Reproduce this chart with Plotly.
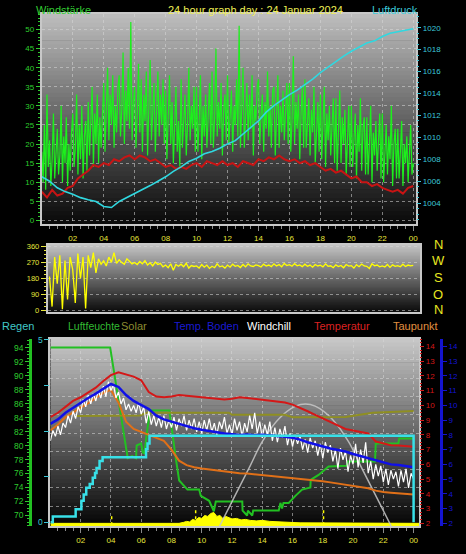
import plotly.graph_objects as go

# ============================ DATA ============================
# --- top panel: Windstärke (gusts, 5-min samples from 00:00) ---
wind_gust = [
    18, 10, 25, 8, 33, 14, 21, 9, 16, 28, 11, 19,
    24, 12, 17, 30, 10, 22, 15, 27, 9, 20, 13, 23,
    28, 14, 19, 33, 12, 25, 16, 30, 11, 22, 26, 13,
    31, 17, 24, 35, 14, 28, 20, 33, 15, 27, 19, 30,
    36, 18, 27, 40, 21, 33, 25, 38, 19, 30, 23, 35,
    38, 22, 29, 44, 20, 34, 26, 40, 24, 52, 21, 31,
    35, 19, 28, 41, 23, 37, 18, 33, 26, 39, 17, 30,
    42, 21, 30, 36, 18, 28, 39, 22, 33, 25, 37, 20,
    34, 16, 27, 38, 20, 31, 15, 29, 35, 18, 26, 14,
    37, 19, 28, 33, 17, 25, 40, 21, 30, 24, 35, 18,
    35, 18, 26, 38, 16, 30, 22, 33, 19, 28, 36, 20,
    39, 19, 27, 45, 22, 31, 24, 36, 17, 29, 33, 21,
    38, 20, 28, 34, 18, 30, 25, 37, 22, 51, 19, 31,
    40, 19, 29, 36, 21, 33, 24, 38, 17, 30, 26, 35,
    37, 20, 28, 33, 18, 31, 24, 39, 22, 30, 19, 34,
    35, 17, 27, 38, 19, 30, 23, 34, 21, 29, 36, 20,
    36, 18, 26, 43, 20, 31, 24, 33, 16, 28, 35, 19,
    37, 19, 27, 32, 17, 29, 23, 35, 15, 26, 31, 18,
    33, 16, 25, 35, 14, 28, 21, 30, 17, 26, 32, 15,
    32, 13, 24, 34, 15, 27, 20, 29, 12, 23, 30, 14,
    30, 14, 22, 28, 11, 25, 18, 32, 13, 24, 27, 12,
    27, 12, 20, 30, 10, 23, 17, 26, 13, 21, 28, 11,
    28, 10, 19, 25, 12, 22, 16, 30, 9, 20, 24, 11,
    24, 11, 18, 26, 9, 20, 15, 22, 10, 19, 25, 12,
    15]

# --- top panel: mean wind (20-min samples) ---
wind_avg = [
    7.5, 6.0, 8.0, 6.5, 7.0, 8.5,
    9, 11, 12, 13, 14.5, 14, 15, 14.5, 16, 15.5, 16.5, 17, 16, 17, 16.5, 15.5, 16, 15,
    14, 14.5, 13.5, 14, 13.5, 14.5, 15, 14, 15.5, 15, 14.5, 15.5, 14.5, 15, 14, 15.5, 15, 14.5,
    16, 15.5, 16.5, 16, 17, 16, 15.5, 16, 15, 15.5, 14.5, 15, 14, 13, 13.5, 12.5, 13, 12,
    11, 11.5, 10, 10, 9, 9.5, 8.5, 8, 7.5, 8, 7, 8.5, 9]

# --- top panel: Luftdruck hPa (30-min samples) ---
pressure = [
    1006.4, 1006.0, 1005.4, 1005.05, 1004.8, 1004.5, 1004.3, 1004.15, 1003.7, 1003.6,
    1004.15, 1004.5, 1004.9, 1005.2, 1005.6, 1006.0, 1006.4, 1006.9, 1007.3, 1007.8,
    1008.1, 1008.5, 1008.7, 1009.0, 1009.4, 1009.7, 1010.3, 1010.9, 1011.5, 1012.3,
    1012.9, 1013.4, 1013.9, 1014.3, 1014.8, 1015.3, 1015.9, 1016.4, 1016.95, 1017.4,
    1017.85, 1018.2, 1018.6, 1018.8, 1019.2, 1019.5, 1019.65, 1019.8, 1019.9]

# --- middle panel: wind direction in degrees (10-min samples from 00:30) ---
wind_dir = [
    190, 20, 300,
    150, 310, 5, 280, 60, 300,
    230, 40, 320, 180, 300, 10,
    310, 240, 325, 210, 290, 260,
    280, 250, 300, 270, 325, 265,
    285, 270, 260, 290, 275, 262,
    270, 258, 275, 262, 280, 255,
    268, 250, 272, 258, 265, 245,
    255, 240, 262, 225, 258, 248,
    260, 245, 265, 238, 252, 247,
    250, 238, 258, 243, 255, 236,
    248, 240, 262, 245, 250, 238,
    255, 243, 260, 248, 253, 241,
    258, 245, 262, 250, 247, 256,
    252, 244, 260, 249, 255, 246,
    262, 250, 258, 245, 264, 252,
    257, 248, 263, 251, 256, 246,
    260, 248, 255, 243, 258, 250,
    254, 245, 262, 248, 251, 240,
    256, 247, 253, 240, 258, 249,
    252, 238, 257, 246, 261, 250,
    248, 236, 262, 251, 255, 245,
    250, 244, 258, 242, 256, 248,
    252, 245, 260, 247, 255, 250,
    253]

# --- bottom panel ---
windchill = [  # 10-min samples, °C
    7.6, 8.3, 7.9, 8.6, 8.0, 8.8,
    8.5, 9.3, 8.8, 9.6, 9.1, 9.9,
    9.5, 10.4, 9.9, 10.7, 10.1, 10.8,
    10.3, 11.0, 10.5, 11.3, 10.6, 11.6,
    11.0, 11.4, 10.5, 10.9, 10.1, 10.5,
    9.7, 10.1, 9.6, 10.0, 9.5, 10.2,
    9.4, 9.9, 8.8, 9.6, 8.7, 9.3,
    8.6, 9.2, 8.5, 9.3, 8.4, 9.0,
    8.5, 9.2, 8.3, 9.1, 8.6, 9.3,
    8.3, 9.0, 8.4, 9.1, 8.2, 8.9,
    8.1, 9.0, 8.3, 9.1, 8.2, 8.8,
    8.0, 8.9, 8.4, 9.2, 8.1, 8.7,
    8.0, 9.1, 8.3, 8.9, 7.9, 8.8,
    8.2, 9.3, 8.4, 9.5, 8.1, 8.9,
    7.8, 8.7, 8.0, 8.9, 7.6, 8.5,
    7.5, 8.4, 7.8, 8.6, 7.3, 8.1,
    7.2, 8.0, 7.4, 7.9, 7.0, 7.7,
    6.8, 7.8, 7.1, 7.6, 6.6, 7.4,
    6.4, 7.5, 6.8, 7.3, 6.2, 7.0,
    5.7, 7.1, 6.3, 6.9, 5.5, 6.6,
    6.0, 7.4, 5.8, 7.0, 6.1, 7.5,
    5.4, 6.2, 5.0, 6.0, 5.2, 5.9,
    4.8, 5.7, 4.6, 5.6, 5.0, 5.5,
    4.5, 5.6, 4.8, 5.7, 4.4, 5.4,
    5.0]

temperatur = [  # 30-min samples, °C
    9.2, 9.5, 9.9, 10.3, 10.55, 10.85, 11.2, 11.65, 12.05, 12.25,
    12.1, 11.95, 11.7, 10.9, 10.6, 10.55, 10.6, 10.7, 10.65, 10.6,
    10.55, 10.5, 10.45, 10.4, 10.45, 10.55, 10.5, 10.45, 10.4, 10.35,
    10.3, 10.2, 10.05, 9.85, 9.6, 9.35, 9.1, 8.9, 8.65, 8.4,
    8.3, 8.2, 8.1, 7.55, 7.4, 7.3, 7.28, 7.22, 7.2]

temp_boden = [  # 30-min samples, °C
    8.75, 9.05, 9.5, 9.85, 10.2, 10.5, 10.8, 11.1, 11.45, 11.25,
    10.7, 10.3, 10.0, 9.75, 9.3, 9.05, 8.9, 8.75, 8.55, 8.45,
    8.35, 8.25, 8.15, 8.1, 8.05, 8.0, 8.02, 7.98, 8.0, 7.97,
    7.95, 7.88, 7.8, 7.68, 7.5, 7.35, 7.2, 7.08, 6.97, 6.87,
    6.7, 6.55, 6.4, 6.25, 6.12, 6.0, 5.95, 5.85, 5.8]

taupunkt = [  # 30-min samples, °C
    8.3, 8.7, 9.2, 9.55, 9.85, 10.15, 10.5, 10.85, 11.05, 10.2,
    8.9, 8.4, 8.2, 8.0, 7.8, 7.6, 7.0, 6.25, 5.95, 5.8,
    5.72, 5.65, 5.6, 5.52, 5.46, 5.4, 5.38, 5.33, 5.3, 5.25,
    5.2, 5.15, 5.1, 5.03, 4.97, 4.9, 4.85, 4.78, 4.7, 4.62,
    4.56, 4.5, 4.38, 4.22, 4.12, 4.08, 4.05, 3.98, 3.95]

hum_hours = [0, 3.95, 5.11, 5.4, 5.66, 5.7, 6.0, 6.1, 6.21, 6.54, 6.65, 7.86, 8.3, 8.51,
             9.06, 9.83, 9.94, 10.49, 10.7, 10.8, 10.93, 12.68, 12.7, 13.0, 13.05, 13.34,
             13.4, 15.09, 15.2, 15.31, 15.4, 15.75, 16.19, 16.63, 17.18, 17.2, 17.72,
             18.38, 19.59, 19.65, 21.45, 21.5, 22.99, 23.05, 24.0]
luftfeuchte = [94, 94, 78.2, 78.5, 78.2, 80, 80.3, 79, 78.9, 84.5, 85, 85, 78, 75,
               73.7, 73.7, 72.8, 72.1, 71.1, 70.6, 72, 72, 70.7, 70.0, 70.7, 70,
               70.7, 70.7, 71.8, 71.0, 71.8, 71.8, 72.8, 73.7, 74, 75.1, 75.8,
               77, 77.1, 77.7, 77.7, 80.3, 80.3, 81, 81]

rain_hours = [0, 0.16, 1.67, 2.05, 2.2, 2.37, 2.6, 2.8, 2.95, 3.05, 3.25, 3.45,
              6.32, 6.42, 6.55, 24.0, 24.0]
regen = [0, 0.16, 0.36, 0.59, 0.76, 0.95, 1.05, 1.22, 1.35, 1.49, 1.68, 1.78,
         2.0, 2.16, 2.37, 2.37, 0]

solar_hours = [1.7, 5.9, 6.4, 11.8, 12.0, 15.5, 16.0, 19.5, 21.3, 23.0, 24.0]
solar_line = [9.28, 9.32, 9.5, 9.5, 9.36, 9.36, 9.2, 9.22, 9.5, 9.55, 9.62]

solar_max_hours = [11.15, 11.8, 12.46, 13.2, 14.0, 15.1, 16.2, 16.85, 17.5, 18.6,
                   19.7, 20.5, 21.24, 21.9, 22.55]
solar_max = [1.75, 3.07, 4.41, 5.9, 7.54, 9.1, 9.95, 10.1, 9.95, 9.1,
             7.54, 5.9, 4.41, 3.07, 1.75]

radiation_hours = [0, 8.5, 8.8, 9.0, 9.2, 9.4, 9.6, 9.8, 10.0, 10.2, 10.4, 10.6, 10.8,
                   11.0, 11.2, 11.4, 11.6, 11.8, 12.0, 12.3, 12.6, 12.9, 13.2, 13.6,
                   14.0, 14.5, 15.0, 15.5, 16.0, 16.5, 24.4]
radiation = [3, 3, 4, 5, 4.5, 7, 6, 9, 8, 11, 10, 13, 14,
             10, 11, 8, 10, 9, 7.5, 8, 6.5, 7, 6, 5.5,
             6, 5, 4.5, 4.5, 4, 3.5, 3]

uv_hours = [4.05, 4.05, None, 9.6, 9.6, None, 18.05, 18.05]
uv_marks = [1, 11, None, 1, 19, None, 1, 19]

hour_ticks = [2, 4, 6, 8, 10, 12, 14, 16, 18, 20, 22, 24]
hour_labels = ["02", "04", "06", "08", "10", "12", "14", "16", "18", "20", "22", "00"]
wind_ticks = [0, 5, 10, 15, 20, 25, 30, 35, 40, 45, 50]
press_ticks = [1004, 1006, 1008, 1010, 1012, 1014, 1016, 1018, 1020]
dir_ticks = [0, 90, 180, 270, 360]
hum_ticks = [70, 72, 74, 76, 78, 80, 82, 84, 86, 88, 90, 92, 94]
temp_ticks = [2, 3, 4, 5, 6, 7, 8, 9, 10, 11, 12, 13, 14]
rain_ticks = [0, 1.25, 2.5, 3.75, 5]
rain_labels = ["0", "", "", "", "5"]
compass = ["N", "W", "S", "O", "N"]
legend_names = ["Regen", "Luftfeuchte", "Solar", "Temp. Boden", "Windchill", "Temperatur", "Taupunkt"]

# ============================ STYLE / LAYOUT ============================
W, H = 466, 554
FONT = "Liberation Sans, Arial, sans-serif"
FRAME = "#c8c8c8"
GRID = "rgba(215,215,215,0.55)"
C_GREEN = "#2ecc2e"
C_CYAN = "#3cc8d8"
C_YEL = "#e6e63c"


def fx(px):
    return px / W


def fy(py):
    return 1 - py / H


TOP = dict(x0=42, x1=418, y0=10, y1=223)
MID = dict(x0=48, x1=422, y0=244, y1=312)
BOT = dict(x0=50.6, x1=421, y0=339, y1=529)


def dom_x(p):
    return [fx(p["x0"]), fx(p["x1"])]


def dom_y(p):
    return [fy(p["y1"]), fy(p["y0"])]


def gradient(p, c_top, c_bot, n=48):
    out = []
    h = (p["y1"] - p["y0"]) / n
    for i in range(n):
        t = (i + 0.5) / n
        c = int(round(c_top + (c_bot - c_top) * t))
        ya = p["y0"] + i * h
        yb = min(ya + h + 0.7, p["y1"])
        out.append(dict(type="rect", xref="paper", yref="paper",
                        x0=fx(p["x0"]), x1=fx(p["x1"]), y0=fy(yb), y1=fy(ya),
                        fillcolor=f"rgb({c},{c},{c})", line=dict(width=0), layer="below"))
    return out


def halfs(lo, hi, step):
    v, out = lo, []
    while v <= hi + 1e-9:
        out.append(round(v, 4))
        v += step
    return out


gust_h = [i / 12 for i in range(len(wind_gust))]
avg_h = [i / 3 for i in range(len(wind_avg))]
press_h = [i / 2 for i in range(len(pressure))]
dir_h = [(i + 3) / 6 for i in range(len(wind_dir))]
chill_h = [i / 6 for i in range(len(windchill))]
temp_h = [i / 2 for i in range(len(temperatur))]
boden_h = [i / 2 for i in range(len(temp_boden))]
tau_h = [i / 2 for i in range(len(taupunkt))]

fig = go.Figure()

# top panel
fig.add_trace(go.Scatter(x=gust_h, y=wind_gust, xaxis="x", yaxis="y", mode="lines",
                         line=dict(color="#1cf01c", width=1.2)))
fig.add_trace(go.Scatter(x=avg_h, y=wind_avg, xaxis="x", yaxis="y", mode="lines",
                         line=dict(color="#c81414", width=2)))
fig.add_trace(go.Scatter(x=press_h, y=pressure, xaxis="x", yaxis="y2", mode="lines",
                         line=dict(color="#30d8e0", width=1.6)))
# middle panel
fig.add_trace(go.Scatter(x=dir_h, y=wind_dir, xaxis="x2", yaxis="y3", mode="lines",
                         line=dict(color="#ffff00", width=1.3)))
# bottom panel
fig.add_trace(go.Scatter(x=radiation_hours, y=radiation, xaxis="x3", yaxis="y4", mode="lines",
                         fill="tozeroy", fillcolor="#ffff00", line=dict(color="#ffff00", width=1)))
fig.add_trace(go.Scatter(x=uv_hours, y=uv_marks, xaxis="x3", yaxis="y4", mode="lines",
                         line=dict(color="#ffff00", width=1.5, dash="dot")))
fig.add_trace(go.Scatter(x=hum_hours, y=luftfeuchte, xaxis="x3", yaxis="y5", mode="lines",
                         line=dict(color="#22c022", width=2)))
fig.add_trace(go.Scatter(x=solar_max_hours, y=solar_max, xaxis="x3", yaxis="y6", mode="lines",
                         line=dict(color="rgba(200,200,200,0.85)", width=1.5, shape="spline")))
fig.add_trace(go.Scatter(x=solar_hours, y=solar_line, xaxis="x3", yaxis="y6", mode="lines",
                         line=dict(color="#8f8f22", width=2)))
fig.add_trace(go.Scatter(x=tau_h, y=taupunkt, xaxis="x3", yaxis="y6", mode="lines",
                         line=dict(color="#e07018", width=2)))
fig.add_trace(go.Scatter(x=chill_h, y=windchill, xaxis="x3", yaxis="y6", mode="lines",
                         line=dict(color="#ffffff", width=1.2)))
fig.add_trace(go.Scatter(x=temp_h, y=temperatur, xaxis="x3", yaxis="y6", mode="lines",
                         line=dict(color="#d41818", width=2)))
fig.add_trace(go.Scatter(x=boden_h, y=temp_boden, xaxis="x3", yaxis="y7", mode="lines",
                         line=dict(color="#1010e8", width=2.5)))
fig.add_trace(go.Scatter(x=rain_hours, y=regen, xaxis="x3", yaxis="y8", mode="lines",
                         line=dict(color="#38e0e8", width=2.5, shape="hv")))

tf = lambda c, s=8: dict(color=c, size=s, family=FONT)

x_common = dict(tickmode="array", tickvals=hour_ticks, ticktext=hour_labels,
                ticks="outside", ticklen=5, tickcolor="#8a8a8a", tickfont=tf(C_YEL),
                showgrid=True, gridcolor=GRID, griddash="dot", gridwidth=1,
                showline=True, linecolor=FRAME, linewidth=2, mirror=True, zeroline=False,
                minor=dict(tickmode="array", tickvals=halfs(0.5, 24, 0.5), ticks="outside",
                           ticklen=3, tickcolor="#8a8a8a", showgrid=False))

layout = dict(
    width=W, height=H, autosize=False, margin=dict(l=0, r=0, t=0, b=0),
    paper_bgcolor="#000000", plot_bgcolor="rgba(0,0,0,0)", showlegend=False,
    font=dict(family=FONT), hovermode=False,
    xaxis=dict(domain=dom_x(TOP), range=[0, 24.19], anchor="y", **x_common),
    yaxis=dict(domain=dom_y(TOP), range=[-1.0, 54.1], anchor="x", side="left",
               tickmode="array", tickvals=wind_ticks, ticks="outside", ticklen=4,
               tickcolor=C_GREEN, tickfont=tf(C_GREEN),
               showgrid=True, gridcolor=GRID, griddash="dot", zeroline=False,
               showline=True, linecolor=FRAME, linewidth=2, mirror=True,
               minor=dict(tickmode="array", tickvals=halfs(0, 54, 1), ticks="outside",
                          ticklen=2, tickcolor=C_GREEN, showgrid=False)),
    yaxis2=dict(range=[1002.08, 1021.26], overlaying="y", anchor="x", side="right",
                tickmode="array", tickvals=press_ticks, ticks="outside", ticklen=4,
                tickcolor=C_CYAN, tickfont=tf(C_CYAN), showgrid=False, zeroline=False,
                showline=False,
                minor=dict(tickmode="array", tickvals=halfs(1002.5, 1021, 0.5), ticks="outside",
                           ticklen=2, tickcolor=C_CYAN, showgrid=False)),
    xaxis2=dict(domain=dom_x(MID), range=[0.39, 24.45], anchor="y3", showticklabels=False,
                ticks="", showgrid=False, zeroline=False,
                showline=True, linecolor=FRAME, linewidth=2, mirror=True),
    yaxis3=dict(domain=dom_y(MID), range=[-11, 369], anchor="x2", side="left",
                tickmode="array", tickvals=dir_ticks, ticks="outside", ticklen=5,
                tickcolor=C_YEL, tickfont=tf(C_YEL, 7.5),
                showgrid=True, gridcolor=GRID, griddash="dot", zeroline=False,
                showline=True, linecolor=FRAME, linewidth=2, mirror=True,
                minor=dict(tickmode="array", tickvals=halfs(0, 360, 22.5), ticks="outside",
                           ticklen=2, tickcolor=C_YEL, showgrid=False)),
    xaxis3=dict(domain=dom_x(BOT), range=[0, 24.37], anchor="y4", **x_common),
    yaxis4=dict(domain=dom_y(BOT), range=[0, 190], anchor="x3", side="left",
                tickmode="array", tickvals=[20.5, 39, 57.5, 76, 94.5, 113, 131.5, 150, 168.5],
                showticklabels=False, ticks="", showgrid=True, gridcolor=GRID, griddash="dot",
                zeroline=False, showline=True, linecolor=FRAME, linewidth=2, mirror=True),
    yaxis5=dict(range=[68.45, 95.27], overlaying="y4", anchor="free", position=fx(30),
                side="left", tickmode="array", tickvals=hum_ticks, ticks="outside", ticklen=4,
                tickcolor=C_GREEN, tickfont=tf(C_GREEN, 8.5), showgrid=False, zeroline=False,
                showline=True, linecolor="#22c022", linewidth=2.5,
                minor=dict(tickmode="array", tickvals=halfs(68.5, 95, 0.5), ticks="outside",
                           ticklen=2, tickcolor=C_GREEN, showgrid=False)),
    yaxis6=dict(range=[1.8, 14.52], overlaying="y4", anchor="x3", side="right",
                tickmode="array", tickvals=temp_ticks, ticks="outside", ticklen=4,
                tickcolor="#d41818", tickfont=tf("#d41818"), showgrid=False, zeroline=False,
                showline=False,
                minor=dict(tickmode="array", tickvals=halfs(2, 14.5, 0.25), ticks="outside",
                           ticklen=2, tickcolor="#d41818", showgrid=False)),
    yaxis7=dict(range=[1.8, 14.52], overlaying="y4", anchor="free", position=fx(443),
                side="right", tickmode="array", tickvals=temp_ticks, ticks="outside", ticklen=4,
                tickcolor="#1414d0", tickfont=tf("#1414d0"), showgrid=False, zeroline=False,
                showline=True, linecolor="#1414d0", linewidth=2.5),
    yaxis8=dict(range=[-0.11, 5.03], overlaying="y4", anchor="x3", side="left",
                tickmode="array", tickvals=rain_ticks, ticktext=rain_labels, ticks="outside",
                ticklen=5, tickcolor=C_CYAN, tickfont=tf(C_CYAN, 8.5), showgrid=False,
                zeroline=False, showline=False),
)

shapes = gradient(TOP, 190, 8) + gradient(MID, 196, 10) + gradient(BOT, 200, 4)

ann = []


def text(s, x, y, color, size=11, xanchor="left"):
    ann.append(dict(text=s, x=fx(x), y=fy(y), xref="paper", yref="paper", showarrow=False,
                    xanchor=xanchor, yanchor="middle", font=dict(color=color, size=size, family=FONT)))


text("Windstärke", 34, 6, "#33cc33")
text("24 hour graph day : 24 Januar 2024", 257, 6, "#eeee55", xanchor="center")
text("Luftdruck", 372, 6, C_CYAN)

for lab, yy in zip(compass, [244, 260, 277, 294, 309]):
    text(lab, 440, yy, "#e8e820", size=13, xanchor="center")

leg_x = [0, 66, 120, 173, 246, 313, 393]
leg_s = [11, 10.5, 11, 11, 11, 11, 11]
leg_c = ["#40c8c8", "#33bb33", "#8c8c30", "#1a1ad0", "#ffffff", "#dd2222", "#e09040"]
for name, xx, cc, ss in zip(legend_names, leg_x, leg_c, leg_s):
    text(name, xx, 326, cc, size=ss)

layout["shapes"] = shapes
layout["annotations"] = ann
fig.update_layout(**layout)
fig.write_html("out.html", config={"displayModeBar": False},
               post_script="document.body.style.margin='0px';")
